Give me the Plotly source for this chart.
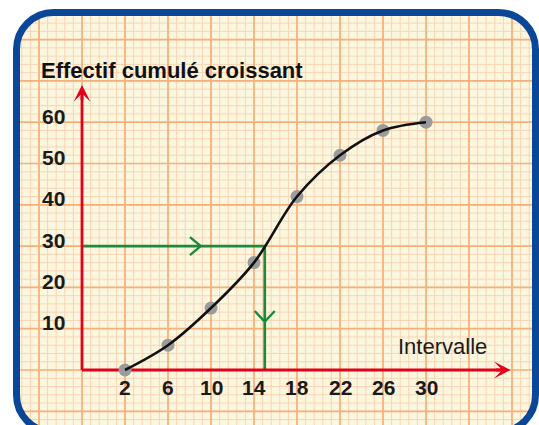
import plotly.graph_objects as go

# ---- data -------------------------------------------------------------
intervalle = [2, 6, 10, 14, 18, 22, 26, 30]
effectif_cumule = [0, 6, 15, 26, 42, 52, 58, 60]
x_tick_labels = ["2", "6", "10", "14", "18", "22", "26", "30"]
y_tick_values = [10, 20, 30, 40, 50, 60]
median_x = 15
median_y = 30

# ---- page geometry (pixels) --------------------------------------------
W, H = 539, 425
PX_PER_X = 43 / 4          # 4 units of x per major square
PX_PER_Y = 41.3 / 10       # 10 units of y per major square
X2_PX = 125                # pixel column of x = 2
Y0_PX = 370                # pixel row of y = 0
x_range = [2 - X2_PX / PX_PER_X, 2 + (W - X2_PX) / PX_PER_X]
y_range = [-(H - Y0_PX) / PX_PER_Y, Y0_PX / PX_PER_Y]
X_AXIS_POS = intervalle[0] - 4   # vertical axis sits one square left of 2

FONT = "Liberation Sans, Arial, sans-serif"
RED = "#e3001b"
GREEN = "#1b8a3a"
BLUE = "#0a4799"
CREAM = "#fbf6de"
MAJOR = "#f6b07c"
MINOR = "#f9d4b6"


def px(x):
    return x / W


def py(y):
    return 1 - y / H


def rounded_rect(x0, y0, x1, y1, r):
    k = 0.5523 * r
    pts = [
        f"M{px(x0 + r)},{py(y0)}",
        f"L{px(x1 - r)},{py(y0)}",
        f"C{px(x1 - r + k)},{py(y0)} {px(x1)},{py(y0 + r - k)} {px(x1)},{py(y0 + r)}",
        f"L{px(x1)},{py(y1 - r)}",
        f"C{px(x1)},{py(y1 - r + k)} {px(x1 - r + k)},{py(y1)} {px(x1 - r)},{py(y1)}",
        f"L{px(x0 + r)},{py(y1)}",
        f"C{px(x0 + r - k)},{py(y1)} {px(x0)},{py(y1 - r + k)} {px(x0)},{py(y1 - r)}",
        f"L{px(x0)},{py(y0 + r)}",
        f"C{px(x0)},{py(y0 + r - k)} {px(x0 + r - k)},{py(y0)} {px(x0 + r)},{py(y0)}",
        "Z",
    ]
    return " ".join(pts)


def grid_lines(step_x, step_y, x_start, y_start):
    """Polyline coordinates (None-separated) for a set of grid lines."""
    xs, ys = [], []
    v = x_start
    while v > x_range[0]:
        v -= step_x
    while v <= x_range[1]:
        xs += [v, v, None]
        ys += [y_range[0], y_range[1], None]
        v += step_x
    v = y_start
    while v > y_range[0]:
        v -= step_y
    while v <= y_range[1]:
        xs += [x_range[0], x_range[1], None]
        ys += [v, v, None]
        v += step_y
    return xs, ys


fig = go.Figure()

# graph paper: fine squares, then heavy squares
gx, gy = grid_lines(0.8, 2, 2, 0)
fig.add_trace(go.Scatter(x=gx, y=gy, mode="lines", line=dict(color=MINOR, width=1),
                         hoverinfo="skip", showlegend=False))
gx, gy = grid_lines(4, 10, 2, 0)
fig.add_trace(go.Scatter(x=gx, y=gy, mode="lines", line=dict(color=MAJOR, width=1.7),
                         hoverinfo="skip", showlegend=False))

# green median construction with open chevrons
fig.add_trace(go.Scatter(x=[X_AXIS_POS, median_x, median_x], y=[median_y, median_y, 0],
                         mode="lines", line=dict(color=GREEN, width=2.7),
                         hoverinfo="skip", showlegend=False))
hx, hy = 9.04, median_y
dxh, dyh = 10.7 / PX_PER_X, 9 / PX_PER_Y
vx, vy = median_x, 11.7
dxv, dyv = 10 / PX_PER_X, 10.7 / PX_PER_Y
fig.add_trace(go.Scatter(
    x=[hx - dxh, hx, hx - dxh, None, vx - dxv, vx, vx + dxv],
    y=[hy + dyh, hy, hy - dyh, None, vy + dyv, vy, vy + dyv],
    mode="lines", line=dict(color=GREEN, width=2.4),
    hoverinfo="skip", showlegend=False))

# red axes (arrowheads added as annotations)
Y_TIP = 69
X_TIP = 37.88
fig.add_trace(go.Scatter(
    x=[X_AXIS_POS, X_AXIS_POS, None, X_AXIS_POS, X_TIP - 0.8],
    y=[Y_TIP - 2, 0, None, 0, 0],
    mode="lines", line=dict(color=RED, width=2.8),
    hoverinfo="skip", showlegend=False))

# gray points, then the smooth cumulative curve over them
fig.add_trace(go.Scatter(
    x=intervalle, y=effectif_cumule, mode="markers",
    marker=dict(size=13, color="#9b9b9b"), hoverinfo="skip", showlegend=False,
))
fig.add_trace(go.Scatter(
    x=intervalle, y=effectif_cumule, mode="lines",
    line=dict(color="#111111", width=2.6, shape="spline", smoothing=1),
    hoverinfo="skip", showlegend=False,
))

shapes = []
# white surround outside the rounded frame (outer rect + inner hole), then the frame
BX0, BY0, BX1, BY1, BR = 16.5, 12.5, 535.5, 432, 37
outer = (f"M{px(-5)},{py(-5)} L{px(-5)},{py(H + 20)} L{px(W + 5)},{py(H + 20)} "
         f"L{px(W + 5)},{py(-5)} Z ")
shapes.append(dict(type="path", xref="paper", yref="paper",
                   path=outer + rounded_rect(BX0, BY0, BX1, BY1, BR),
                   fillcolor="white", line=dict(width=0), layer="above"))
shapes.append(dict(type="path", xref="paper", yref="paper",
                   path=rounded_rect(BX0, BY0, BX1, BY1, BR),
                   fillcolor="rgba(0,0,0,0)", line=dict(color=BLUE, width=7),
                   layer="above"))

annotations = []
# arrowheads of the axes
annotations.append(dict(x=X_AXIS_POS, y=Y_TIP, ax=X_AXIS_POS, ay=Y_TIP - 4,
                        xref="x", yref="y", axref="x", ayref="y", text="",
                        showarrow=True, arrowhead=3, arrowsize=1.0,
                        arrowwidth=2.8, arrowcolor=RED, standoff=0))
annotations.append(dict(x=X_TIP, y=0, ax=X_TIP - 1.5, ay=0,
                        xref="x", yref="y", axref="x", ayref="y", text="",
                        showarrow=True, arrowhead=3, arrowsize=1.0,
                        arrowwidth=2.8, arrowcolor=RED, standoff=0))

# tick labels
for xv, lab in zip(intervalle, x_tick_labels):
    annotations.append(dict(x=xv, y=0, xref="x", yref="y", text=lab,
                            showarrow=False, yanchor="middle", yshift=-17,
                            font=dict(family=FONT, size=21, color="#1a1a1a",
                                      weight="bold")))
for yv in y_tick_values:
    annotations.append(dict(x=X_AXIS_POS, y=yv, xref="x", yref="y", text=str(yv),
                            showarrow=False, xanchor="right", xshift=-15,
                            yanchor="middle", yshift=6,
                            font=dict(family=FONT, size=21, color="#1a1a1a",
                                      weight="bold")))

# axis titles
annotations.append(dict(x=px(39), y=py(71), xref="paper", yref="paper",
                        text="Effectif cumulé croissant", showarrow=False,
                        xanchor="left", yanchor="middle",
                        font=dict(family=FONT, size=22, color="#111111",
                                  weight="bold")))
annotations.append(dict(x=px(442.5), y=py(346), xref="paper", yref="paper",
                        text="Intervalle", showarrow=False,
                        xanchor="center", yanchor="middle",
                        font=dict(family=FONT, size=22, color="#1a1a1a")))

fig.update_layout(
    width=W, height=H,
    margin=dict(l=0, r=0, t=0, b=0, pad=0),
    paper_bgcolor="white", plot_bgcolor=CREAM,
    shapes=shapes, annotations=annotations,
    showlegend=False,
    xaxis=dict(range=x_range, fixedrange=True, showticklabels=False,
               zeroline=False, showline=False, ticks="", showgrid=False),
    yaxis=dict(range=y_range, fixedrange=True, showticklabels=False,
               zeroline=False, showline=False, ticks="", showgrid=False),
)

fig.write_html("out.html")
